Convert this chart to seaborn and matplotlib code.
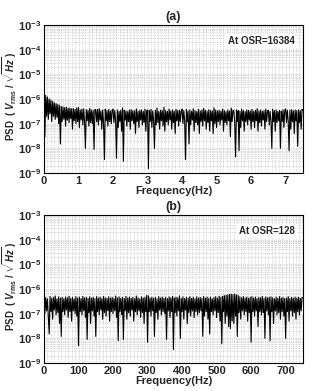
import numpy as np
import matplotlib
matplotlib.use("Agg")
import matplotlib.pyplot as plt
import seaborn as sns
from matplotlib.ticker import LogLocator, MultipleLocator, NullFormatter

# PSD values, in units of 1e-7 V/sqrt(Hz)
# panel (a): 0 .. 7.5 Hz, one value every 0.025 Hz (rows of 0.5 Hz)
psd_a = [16, 0.3, 14, 2, 12, 1.5, 10, 2.5, 9, 1.2, 8, 2, 7, 1.5, 6.5, 1.8, 6, 1.0, 5.5, 0.15,
         5, 1.2, 4.8, 1.5, 4.5, 0.8, 4.6, 1.4, 4.2, 1.1, 4.3, 1.6, 4, 0.6, 4.1, 1.3, 3.8, 1.0, 4.4, 1.2,
         4.5, 0.7, 3.6, 1.4, 3.9, 0.9, 4.0, 1.2, 0.1, 3.7, 1.3, 3.5, 0.8, 4.2, 1.1, 3.6, 1.0, 3.4, 0.09, 3.8,
         3.5, 1.2, 3.8, 0.9, 4.1, 1.4, 3.3, 0.6, 3.6, 1.1, 0.035, 3.9, 1.3, 3.4, 0.8, 3.7, 1.2, 3.3, 1.0, 3.6,
         3.9, 1.1, 3.4, 1.3, 0.04, 3.6, 0.7, 3.2, 1.2, 3.5, 0.5, 4.4, 0.03, 3.5, 1.4, 3.3, 0.8, 3.1, 1.2, 3.6,
         0.6, 3.7, 1.3, 3.4, 1.0, 3.3, 0.4, 4.0, 1.2, 3.2, 0.7, 3.5, 1.4, 3.6, 0.9, 3.2, 1.1, 3.9, 0.5, 3.4,
         3.6, 0.015, 3.4, 1.2, 3.8, 0.7, 3.3, 1.3, 0.1, 3.5, 0.9, 4.3, 1.1, 3.1, 0.6, 3.5, 1.3, 3.4, 0.8, 4.6,
         0.5, 3.4, 1.2, 3.2, 0.9, 3.9, 1.4, 3.3, 0.6, 3.6, 1.1, 3.2, 0.4, 3.8, 1.3, 3.4, 0.8, 3.5, 1.2, 3.3,
         3.9, 1.0, 3.4, 1.3, 0.035, 3.7, 1.2, 3.3, 0.15, 3.6, 0.9, 3.2, 1.4, 4.0, 0.5, 3.4, 1.1, 3.1, 0.9, 3.8,
         0.4, 3.3, 1.2, 3.6, 0.8, 4.2, 1.3, 3.5, 0.6, 3.2, 1.1, 3.7, 0.5, 3.4, 1.3, 3.3, 0.4, 4.4, 1.0, 3.6,
         0.7, 3.3, 1.2, 3.5, 0.9, 3.2, 1.4, 3.9, 0.5, 3.4, 1.1, 3.1, 0.9, 3.6, 1.3, 3.3, 0.3, 4.3, 1.2, 3.5,
         3.3, 1.1, 0.045, 3.6, 1.2, 3.4, 0.08, 3.2, 0.7, 3.9, 1.3, 3.4, 0.5, 3.1, 1.2, 3.6, 0.9, 3.5, 1.4, 3.3,
         0.6, 3.8, 1.2, 3.2, 0.7, 3.5, 1.3, 4.1, 0.5, 3.3, 1.1, 3.6, 0.8, 3.2, 1.4, 3.4, 0.6, 3.9, 1.2, 3.3,
         3.5, 0.9, 3.2, 1.3, 0.1, 3.9, 1.2, 3.4, 0.5, 3.6, 1.1, 3.2, 1.3, 3.4, 0.1, 3.2, 1.2, 3.7, 0.7, 3.4,
         4.0, 1.1, 3.5, 1.3, 0.08, 3.5, 0.6, 3.7, 1.2, 3.3, 0.4, 3.6, 1.3, 3.4, 0.12, 3.6, 1.1, 3.4, 0.6, 3.8,
         3.4]

# panel (b): 0 .. 750 Hz, one value every 2.5 Hz (rows of 50 Hz)
psd_b = [3.5, 1.0, 4.5, 1.3, 4.0, 0.8, 0.15, 5.0, 1.2, 4.2, 0.6, 4.6, 1.4, 5.2, 0.9, 4.0, 1.1, 4.8, 0.4, 4.3,
         0.12, 4.6, 1.2, 4.1, 0.9, 4.7, 1.4, 4.4, 0.7, 5.1, 1.2, 4.2, 0.5, 4.6, 1.3, 4.0, 1.0, 4.9, 0.8, 4.3,
         0.05, 4.7, 1.2, 4.1, 0.9, 5.0, 1.3, 4.4, 0.7, 4.6, 0.09, 4.2, 1.1, 4.8, 0.4, 4.3, 1.3, 4.6, 0.8, 4.1,
         0.12, 4.9, 1.2, 4.3, 0.9, 4.7, 1.4, 4.1, 0.6, 5.0, 1.1, 4.4, 0.8, 4.2, 1.3, 4.8, 0.5, 4.3, 1.2, 4.6,
         1.0, 4.1, 1.3, 5.2, 0.7, 4.4, 0.08, 4.8, 1.2, 4.2, 0.9, 4.6, 0.09, 4.1, 1.3, 5.0, 0.6, 4.3, 1.1, 4.7,
         0.8, 4.2, 1.4, 4.6, 0.5, 4.1, 1.2, 5.2, 0.9, 4.4, 1.3, 4.0, 0.7, 4.8, 1.1, 4.3, 0.4, 4.6, 1.2, 5.5,
         0.07, 5.3, 1.2, 4.3, 0.8, 4.7, 1.3, 4.2, 0.12, 4.6, 1.1, 4.0, 0.6, 4.9, 1.4, 4.3, 0.9, 4.7, 1.2, 4.2,
         1.0, 4.6, 0.09, 4.1, 1.3, 4.8, 0.7, 4.4, 1.2, 5.0, 0.035, 4.3, 1.1, 4.7, 0.8, 4.4, 1.3, 5.3, 0.1, 4.2,
         1.2, 4.8, 0.6, 4.1, 1.4, 4.6, 0.4, 4.3, 1.1, 4.9, 0.8, 4.2, 1.3, 4.6, 0.7, 4.0, 1.2, 4.8, 0.9, 4.3,
         1.1, 4.6, 1.3, 4.2, 0.12, 5.0, 0.8, 4.3, 1.2, 4.7, 0.6, 4.2, 0.15, 4.7, 1.2, 4.0, 0.9, 4.5, 1.3, 4.9,
         0.7, 4.3, 1.1, 5.1, 0.5, 4.6, 0.06, 5.1, 1.2, 5.4, 0.4, 5.6, 0.8, 5.8, 0.3, 6.0, 0.25, 6.2, 0.5, 5.9,
         0.4, 6.3, 0.8, 5.8, 0.12, 5.5, 1.1, 4.8, 0.6, 4.4, 1.3, 4.9, 0.9, 4.3, 1.2, 4.7, 0.5, 4.2, 1.1, 4.6,
         0.07, 4.9, 1.2, 4.3, 0.8, 4.7, 1.3, 4.1, 0.3, 4.6, 1.2, 4.4, 0.9, 5.0, 1.1, 4.2, 0.1, 4.8, 1.3, 4.4,
         0.9, 4.6, 0.08, 4.8, 1.2, 4.4, 0.4, 4.0, 1.3, 4.7, 0.9, 4.2, 1.1, 4.9, 0.6, 4.3, 1.2, 4.6, 0.8, 4.1,
         0.1, 4.3, 1.2, 4.9, 0.5, 4.1, 1.3, 4.6, 0.8, 4.2, 1.1, 4.7, 0.6, 4.3, 1.2, 4.6, 0.9, 4.2, 1.3, 4.5,
         4.5]

fmax_a = 7.5    # Hz
fmax_b = 750    # Hz
panels = ["(a)", "(b)"]
notes = ["At OSR=16384", "At OSR=128"]
xlabel = "Frequency(Hz)"
ylabel = r"PSD  ( $V_{\mathrm{rms}}$ / $\sqrt{Hz}$ )"

sns.set_style("white")
plt.rcParams["font.family"] = ["Liberation Sans", "DejaVu Sans"]
plt.rcParams["font.weight"] = "bold"
plt.rcParams["mathtext.fontset"] = "custom"
plt.rcParams["mathtext.rm"] = "Liberation Sans:bold"
plt.rcParams["mathtext.it"] = "Liberation Sans:bold:italic"
plt.rcParams["mathtext.bf"] = "Liberation Sans:bold"

fig = plt.figure(figsize=(3.2, 3.91), dpi=100)
ax_a = fig.add_axes([0.1375, 0.5575, 0.809, 0.3785])
ax_b = fig.add_axes([0.1375, 0.0716, 0.809, 0.3785])

specs = [(ax_a, psd_a, fmax_a, 1, 0.1), (ax_b, psd_b, fmax_b, 100, 10)]
for i, (ax, vals, fmax, major, minor) in enumerate(specs):
    freq = np.linspace(0, fmax, len(vals))
    psd = np.array(vals) * 1e-7
    sns.lineplot(x=freq, y=psd, ax=ax, color="black", linewidth=0.8)
    ax.set_yscale("log")
    ax.set_ylim(1e-9, 1e-3)
    ax.set_xlim(0, fmax)
    ax.xaxis.set_major_locator(MultipleLocator(major))
    ax.xaxis.set_minor_locator(MultipleLocator(minor))
    ax.yaxis.set_major_locator(LogLocator(base=10, numticks=10))
    ax.yaxis.set_minor_locator(LogLocator(base=10, subs=np.arange(2, 10), numticks=20))
    ax.yaxis.set_minor_formatter(NullFormatter())
    ax.grid(True, which="both", color="#b4b4b4", linestyle=":", linewidth=0.5)
    ax.set_axisbelow(True)
    ax.tick_params(axis="both", which="major", direction="in", length=3,
                   labelsize=8, pad=2, width=0.6)
    ax.tick_params(axis="both", which="minor", length=0)
    for s in ax.spines.values():
        s.set_color("black")
        s.set_linewidth(0.8)
    ax.set_xlabel(xlabel, fontsize=8, fontweight="bold")
    ax.xaxis.set_label_coords(0.5, -0.085)
    ax.set_ylabel(ylabel, fontsize=7, fontweight="bold")
    ax.yaxis.set_label_coords(-0.095, 0.52)
    ax.set_title(panels[i], fontsize=9, fontweight="bold", pad=3.5)
    ax.text(0.97, 0.89, notes[i], transform=ax.transAxes, ha="right", va="center",
            fontsize=7, fontweight="bold",
            bbox=dict(facecolor="white", edgecolor="none", pad=1.5))

fig.savefig("out.png", dpi=100)
